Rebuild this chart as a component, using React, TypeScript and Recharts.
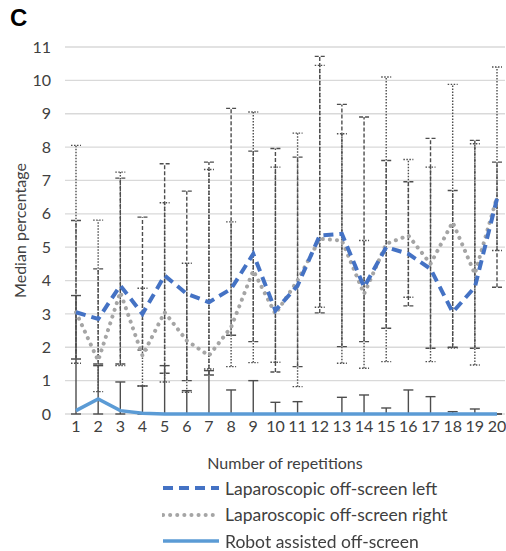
import { LineChart, Line, XAxis, YAxis, CartesianGrid, ErrorBar } from 'recharts';

const repetitions = ['1', '2', '3', '4', '5', '6', '7', '8', '9', '10', '11', '12', '13', '14', '15', '16', '17', '18', '19', '20'];
const yTicks = [0, 1, 2, 3, 4, 5, 6, 7, 8, 9, 10, 11];

// medians
const lapLeft = [3.05, 2.85, 3.85, 3.0, 4.15, 3.6, 3.35, 3.75, 4.8, 3.1, 3.85, 5.35, 5.4, 3.8, 5.0, 4.8, 4.35, 3.05, 3.8, 6.45];
const lapRight = [3.05, 1.6, 3.65, 1.75, 3.05, 2.2, 1.75, 2.6, 4.3, 3.0, 4.0, 5.25, 5.2, 3.6, 5.1, 5.35, 4.5, 5.75, 4.2, 6.5];
const robot = [0.1, 0.45, 0.1, 0.02, 0, 0, 0, 0, 0, 0, 0, 0, 0, 0, 0, 0, 0, 0, 0, 0];

// error bar ranges (low / high)
const lapLeftLow = [1.65, 1.5, 1.5, 1.92, 1.22, 1.0, 1.17, 2.36, 2.17, 1.26, 1.42, 3.03, 2.02, 2.17, 2.57, 3.24, 1.97, 2.0, 1.97, 3.8];
const lapLeftHigh = [5.8, 4.35, 7.07, 5.9, 7.5, 6.68, 7.55, 9.16, 7.88, 7.96, 7.7, 10.72, 9.28, 8.9, 7.6, 6.96, 8.26, 6.7, 8.2, 7.55];
const lapRightLow = [1.52, 0.67, 1.45, 0.84, 0.96, 0.65, 1.35, 1.42, 1.54, 1.55, 0.82, 3.2, 1.52, 1.37, 1.57, 3.5, 1.57, 1.98, 1.47, 4.9];
const lapRightHigh = [8.05, 5.81, 7.25, 3.77, 6.33, 4.52, 7.33, 5.76, 9.05, 7.4, 8.42, 10.45, 8.4, 5.2, 10.1, 7.63, 7.4, 9.88, 8.1, 10.4];
const robotLow = [0, 0, 0, 0, 0, 0, 0, 0, 0, 0, 0, 0, 0, 0, 0, 0, 0, 0, 0, 0];
const robotHigh = [3.55, 1.45, 0.96, 0.84, 1.45, 0.7, 1.3, 0.72, 1.0, 0.35, 0.37, 0, 0.5, 0.57, 0.18, 0.72, 0.52, 0.07, 0.15, 0];

const data = repetitions.map((r, i) => ({
  rep: r,
  left: lapLeft[i],
  right: lapRight[i],
  robot: robot[i],
  leftErr: [lapLeft[i] - lapLeftLow[i], lapLeftHigh[i] - lapLeft[i]],
  rightErr: [lapRight[i] - lapRightLow[i], lapRightHigh[i] - lapRight[i]],
  robotErr: [robot[i] - robotLow[i], robotHigh[i] - robot[i]],
}));

const font = 'Lato, "Open Sans", sans-serif';
const barColor = '#4d4d4d';

const legendItems = [
  { label: 'Laparoscopic off-screen left', color: '#4472C4', dash: '10 6', width: 4, cap: 'butt' as const },
  { label: 'Laparoscopic off-screen right', color: '#A5A5A5', dash: '0.1 7', width: 4, cap: 'round' as const },
  { label: 'Robot assisted off-screen', color: '#5B9BD5', dash: undefined, width: 3.5, cap: 'butt' as const },
];

export default function App() {
  return (
    <div style={{ position: 'fixed', left: 0, top: 0, width: 506, height: 551, background: '#fff', fontFamily: font }}>
      <div style={{ position: 'absolute', left: 10, top: 4, fontFamily: '"Liberation Sans", Arial, sans-serif', fontWeight: 700, fontSize: 24 }}>
        C
      </div>
      <LineChart width={506} height={551} data={data} margin={{ top: 47, right: 1, left: 10, bottom: 77 }}>
        <CartesianGrid vertical={false} stroke="#d9d9d9" strokeWidth={1.3} />
        <XAxis
          dataKey="rep"
          height={60}
          padding={{ left: 11, right: 8 }}
          axisLine={false}
          tickLine={false}
          tickSize={0}
          tickMargin={7}
          interval={0}
          tick={{ fill: '#404040', fontSize: 16, fontFamily: font }}
          label={{ value: 'Number of repetitions', position: 'insideBottom', offset: 5, fill: '#404040', fontSize: 16, fontFamily: font }}
        />
        <YAxis
          width={55}
          domain={[0, 11]}
          ticks={yTicks}
          interval={0}
          axisLine={false}
          tickLine={false}
          tickSize={0}
          tickMargin={14}
          tick={{ fill: '#404040', fontSize: 16, fontFamily: font }}
          label={{ value: 'Median percentage', angle: -90, position: 'insideLeft', offset: 10, style: { textAnchor: 'middle' }, fill: '#404040', fontSize: 16, fontFamily: font }}
        />

        {/* error bars first so the median lines sit on top */}
        <Line dataKey="robot" stroke="none" dot={false} activeDot={false} isAnimationActive={false} legendType="none">
          <ErrorBar dataKey="robotErr" direction="y" width={5} stroke={barColor} strokeWidth={1.4} />
        </Line>
        <Line dataKey="left" stroke="none" dot={false} activeDot={false} isAnimationActive={false} legendType="none">
          <ErrorBar dataKey="leftErr" direction="y" width={5} stroke={barColor} strokeWidth={1.4} strokeDasharray="4 2" />
        </Line>
        <Line dataKey="right" stroke="none" dot={false} activeDot={false} isAnimationActive={false} legendType="none">
          <ErrorBar dataKey="rightErr" direction="y" width={5} stroke={barColor} strokeWidth={1.4} strokeDasharray="1.5 1.5" />
        </Line>

        <Line type="linear" dataKey="robot" stroke="#5B9BD5" strokeWidth={3.5} dot={false} activeDot={false} isAnimationActive={false} />
        <Line type="linear" dataKey="right" stroke="#A5A5A5" strokeWidth={4} strokeDasharray="0.1 7" strokeLinecap="round" dot={false} activeDot={false} isAnimationActive={false} />
        <Line type="linear" dataKey="left" stroke="#4472C4" strokeWidth={4} strokeDasharray="10 6" dot={false} activeDot={false} isAnimationActive={false} />
      </LineChart>

      <div style={{ position: 'absolute', left: 162, top: 475 }}>
        {legendItems.map((item) => (
          <div key={item.label} style={{ display: 'flex', alignItems: 'center', height: 26.5 }}>
            <svg width={58} height={10} style={{ marginRight: 5 }}>
              <line x1={1} y1={5} x2={57} y2={5} stroke={item.color} strokeWidth={item.width} strokeDasharray={item.dash} strokeLinecap={item.cap} />
            </svg>
            <span style={{ fontSize: 17.5, color: '#404040' }}>{item.label}</span>
          </div>
        ))}
      </div>
    </div>
  );
}
